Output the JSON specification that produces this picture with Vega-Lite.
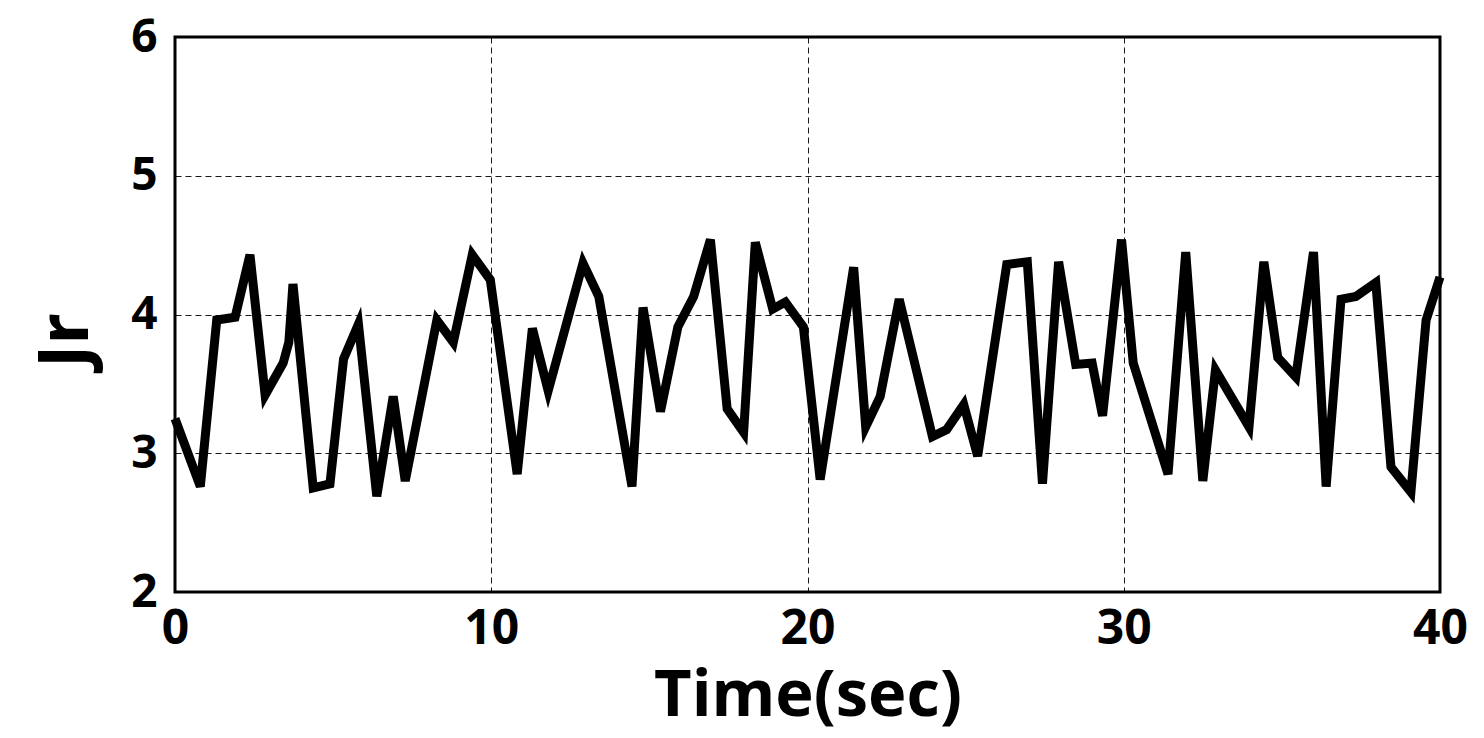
{
  "$schema": "https://vega.github.io/schema/vega-lite/v6.json",
  "autosize": {"type": "none"},
  "width": 1265,
  "height": 555,
  "padding": {"left": 175, "top": 37, "right": 44, "bottom": 146},
  "background": "white",
  "config": {
    "view": {"stroke": "black", "strokeWidth": 3},
    "font": "Open Sans"
  },
  "data": {
    "values": [
      {"t": 0, "v": 3.25}, {"t": 0.8, "v": 2.76}, {"t": 1.32, "v": 3.96}, {"t": 1.9, "v": 3.98},
      {"t": 2.37, "v": 4.43}, {"t": 2.85, "v": 3.42}, {"t": 3.42, "v": 3.65}, {"t": 3.6, "v": 3.8},
      {"t": 3.73, "v": 4.22}, {"t": 4.37, "v": 2.75}, {"t": 4.9, "v": 2.78}, {"t": 5.33, "v": 3.68},
      {"t": 5.8, "v": 3.93}, {"t": 6.38, "v": 2.69}, {"t": 6.9, "v": 3.41}, {"t": 7.28, "v": 2.8},
      {"t": 8.28, "v": 3.96}, {"t": 8.8, "v": 3.8}, {"t": 9.4, "v": 4.43}, {"t": 9.97, "v": 4.25},
      {"t": 10.82, "v": 2.85}, {"t": 11.3, "v": 3.9}, {"t": 11.8, "v": 3.45}, {"t": 12.9, "v": 4.37},
      {"t": 13.4, "v": 4.13}, {"t": 14.45, "v": 2.76}, {"t": 14.8, "v": 4.05}, {"t": 15.35, "v": 3.3},
      {"t": 15.9, "v": 3.91}, {"t": 16.4, "v": 4.13}, {"t": 16.93, "v": 4.54}, {"t": 17.46, "v": 3.32},
      {"t": 17.98, "v": 3.15}, {"t": 18.35, "v": 4.52}, {"t": 18.9, "v": 4.04}, {"t": 19.3, "v": 4.09},
      {"t": 19.87, "v": 3.91}, {"t": 20.4, "v": 2.81}, {"t": 21.46, "v": 4.34}, {"t": 21.84, "v": 3.19},
      {"t": 22.3, "v": 3.41}, {"t": 22.9, "v": 4.11}, {"t": 23.95, "v": 3.12}, {"t": 24.4, "v": 3.17},
      {"t": 24.94, "v": 3.35}, {"t": 25.38, "v": 2.98}, {"t": 26.3, "v": 4.36}, {"t": 26.95, "v": 4.38},
      {"t": 27.43, "v": 2.78}, {"t": 27.94, "v": 4.38}, {"t": 28.48, "v": 3.64}, {"t": 29.0, "v": 3.65},
      {"t": 29.33, "v": 3.27}, {"t": 29.93, "v": 4.54}, {"t": 30.3, "v": 3.65}, {"t": 31.4, "v": 2.85},
      {"t": 31.96, "v": 4.45}, {"t": 32.5, "v": 2.8}, {"t": 32.9, "v": 3.6}, {"t": 33.96, "v": 3.19},
      {"t": 34.43, "v": 4.38}, {"t": 34.87, "v": 3.69}, {"t": 35.44, "v": 3.55}, {"t": 36.0, "v": 4.45},
      {"t": 36.4, "v": 2.76}, {"t": 36.87, "v": 4.11}, {"t": 37.34, "v": 4.13}, {"t": 37.97, "v": 4.23},
      {"t": 38.45, "v": 2.9}, {"t": 39.08, "v": 2.72}, {"t": 39.56, "v": 3.96}, {"t": 40, "v": 4.27}
    ]
  },
  "mark": {"type": "line", "color": "black", "strokeWidth": 9, "strokeJoin": "miter"},
  "encoding": {
    "x": {
      "field": "t", "type": "quantitative",
      "scale": {"domain": [0, 40], "nice": false, "zero": false},
      "axis": {
        "values": [0, 10, 20, 30, 40],
        "title": "Time(sec)",
        "titleFont": "Open Sans", "titleFontSize": 65, "titleFontWeight": "bold", "titleColor": "black",
        "titleBaseline": "alphabetic", "titleY": 123,
        "labelFont": "Open Sans", "labelFontSize": 48, "labelFontWeight": "bold", "labelColor": "black",
        "labelPadding": 13, "labelFlush": false, "labelOverlap": false,
        "domain": false, "ticks": false,
        "grid": true, "gridColor": "black", "gridWidth": 1, "gridDash": [6, 4], "gridOpacity": 0.9
      }
    },
    "y": {
      "field": "v", "type": "quantitative",
      "scale": {"domain": [2, 6], "nice": false, "zero": false},
      "axis": {
        "values": [2, 3, 4, 5, 6],
        "title": "Jr",
        "titleFont": "Open Sans", "titleFontSize": 70, "titleFontWeight": "bold", "titleColor": "black",
        "titleAngle": -90, "titleX": -88, "titleY": 303, "titleAlign": "center", "titleBaseline": "alphabetic",
        "labelFont": "Open Sans", "labelFontSize": 46, "labelFontWeight": "bold", "labelColor": "black",
        "labelPadding": 18, "labelFlush": false, "labelOverlap": false,
        "domain": false, "ticks": false,
        "grid": true, "gridColor": "black", "gridWidth": 1, "gridDash": [6, 4], "gridOpacity": 0.9
      }
    }
  }
}
